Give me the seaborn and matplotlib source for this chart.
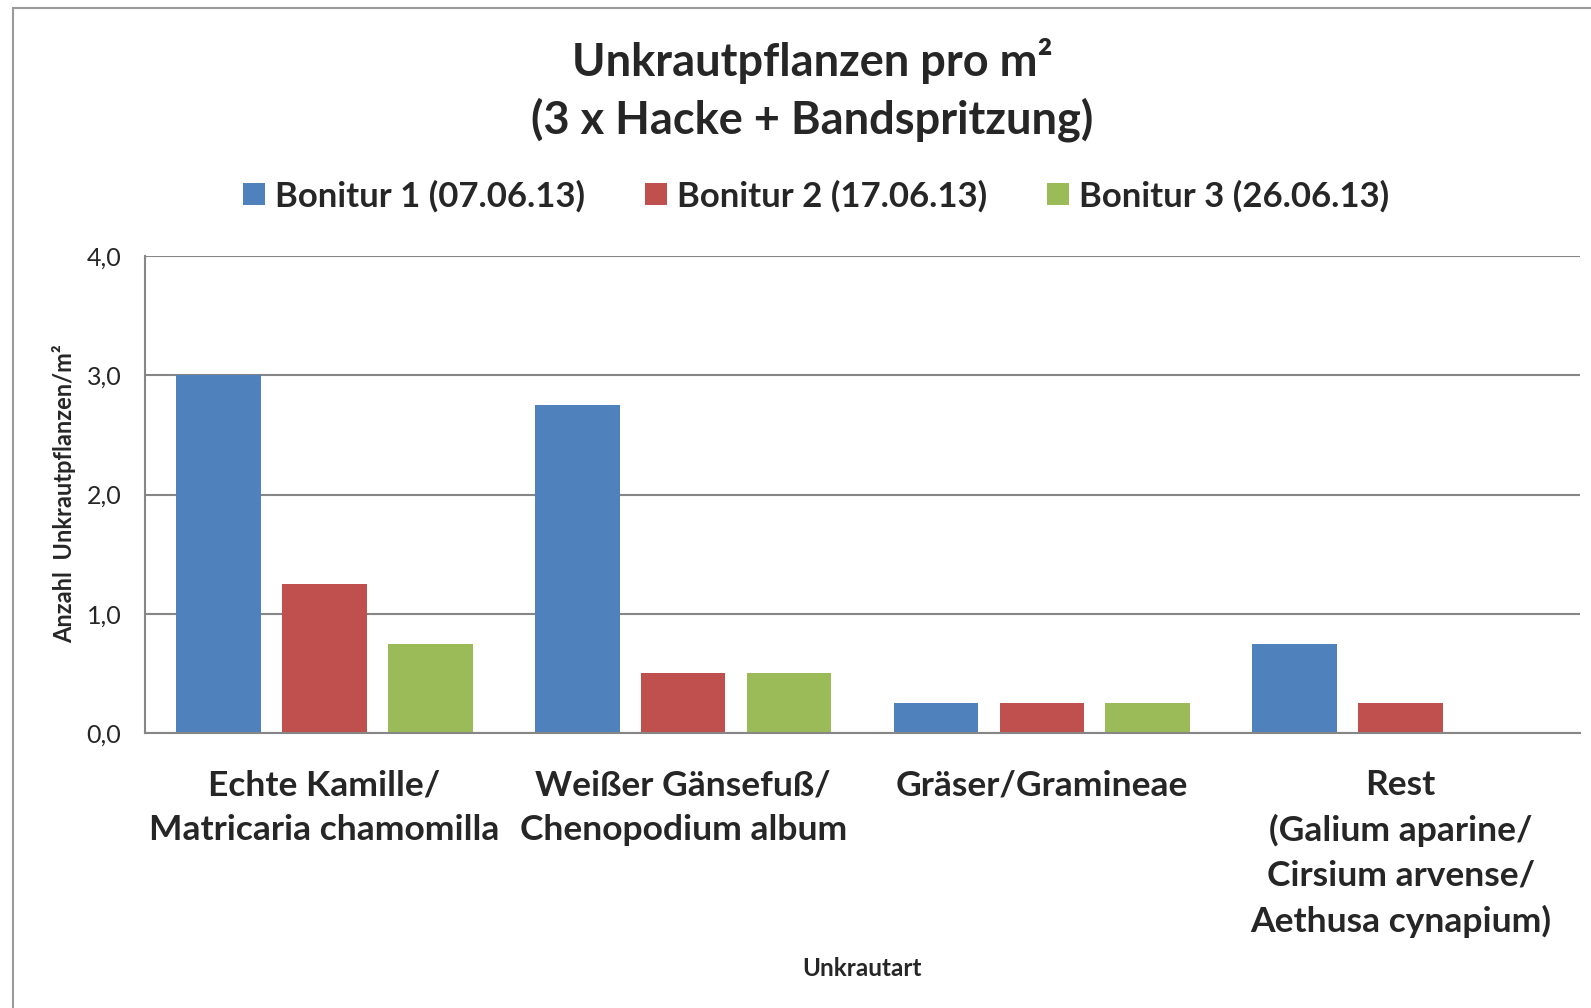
import pandas as pd
import matplotlib.pyplot as plt
import seaborn as sns
from matplotlib.patches import Rectangle, Patch

# data
categories = ['Echte Kamille/\nMatricaria chamomilla',
              'Weißer Gänsefuß/\nChenopodium album',
              'Gräser/Gramineae',
              'Rest\n(Galium aparine/\nCirsium arvense/\nAethusa cynapium)']
series = ['Bonitur 1 (07.06.13)', 'Bonitur 2 (17.06.13)', 'Bonitur 3 (26.06.13)']
bonitur1 = [3.0, 2.75, 0.25, 0.75]
bonitur2 = [1.25, 0.5, 0.25, 0.25]
bonitur3 = [0.75, 0.5, 0.25, 0.0]
y_ticks = [0, 1, 2, 3, 4]
y_tick_labels = ['0,0', '1,0', '2,0', '3,0', '4,0']
colors = ['#4F81BD', '#C0504D', '#9BBB59']

# long format for seaborn
rows = []
for s, vals in zip(series, [bonitur1, bonitur2, bonitur3]):
    for c, v in zip(categories, vals):
        rows.append({'cat': c, 'series': s, 'val': v})
df = pd.DataFrame(rows)

sns.set_style('white')
plt.rcParams['font.family'] = ['Lato', 'DejaVu Sans']

fig = plt.figure(figsize=(15.91, 10.08), dpi=100)
ax = fig.add_axes([145 / 1591, 1 - 733 / 1008, (1580 - 145) / 1591, (733 - 256) / 1008])

sns.barplot(data=df, x='cat', y='val', hue='series', palette=colors,
            width=0.885, gap=0.2, linewidth=0, saturation=1, ax=ax, legend=False)

grid_c = '#868686'
ax.set_ylim(0, 4)
ax.set_xlim(-0.5, 3.5)
ax.set_yticks(y_ticks)
ax.set_yticklabels(y_tick_labels, fontsize=18)
ax.yaxis.grid(True, color=grid_c, linewidth=1.5)
ax.set_axisbelow(True)
ax.tick_params(axis='y', length=0, pad=17)
ax.tick_params(axis='x', length=0, pad=26, labelsize=25.5)
for lab in ax.get_xticklabels():
    lab.set_fontweight('bold')
    lab.set_linespacing(1.48)
    lab.set_verticalalignment('top')
ax.set_xticks([0.5, 1.5, 2.5, 3.5], minor=True)
ax.tick_params(axis='x', which='minor', direction='in', length=7, width=1.5, color=grid_c)

for side in ['top', 'right']:
    ax.spines[side].set_visible(False)
for side in ['left', 'bottom']:
    ax.spines[side].set_color(grid_c)
    ax.spines[side].set_linewidth(1.5)

ax.set_xlabel('')
ax.set_ylabel('')
fig.text(64 / 1591, 1 - 494 / 1008, 'Anzahl  Unkrautpflanzen/m²', rotation=90,
         ha='center', va='center', fontsize=17, fontweight='bold')
fig.text(862 / 1591, 1 - 969 / 1008, 'Unkrautart', ha='center', va='center',
         fontsize=17.5, fontweight='bold')

# title
fig.text(812 / 1591, 1 - 90 / 1008, 'Unkrautpflanzen pro m²\n(3 x Hacke + Bandspritzung)',
         ha='center', va='center', fontsize=32.5, fontweight='bold', linespacing=1.38)

# legend
handles = [Patch(facecolor=c, edgecolor='none') for c in colors]
fig.legend(handles, series, loc='center', bbox_to_anchor=(816 / 1591, 1 - 196 / 1008),
           ncol=3, frameon=False, prop={'size': 25, 'weight': 'bold'},
           handlelength=0.63, handleheight=0.63, handletextpad=0.29, columnspacing=1.73)

# outer chart frame
fig.add_artist(Rectangle((13 / 1591, -0.1), 1.2, 1 - 8 / 1008 + 0.1, transform=fig.transFigure,
                         fill=False, edgecolor='#9a9a9a', linewidth=1.5))

fig.savefig('out.png', dpi=100)
